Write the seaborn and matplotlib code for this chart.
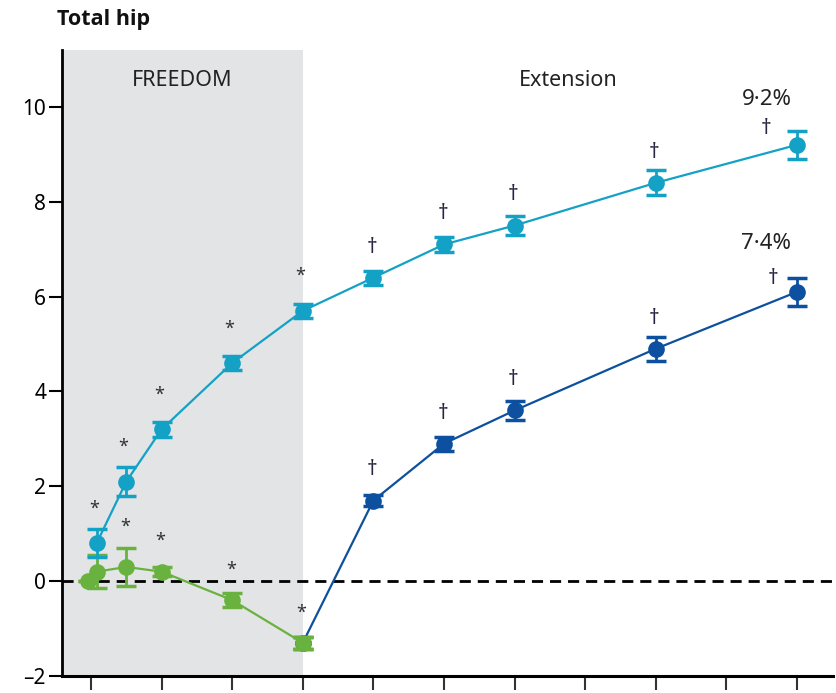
import matplotlib
matplotlib.use("Agg")
import matplotlib.pyplot as plt
import seaborn as sns
import pandas as pd

# Years since start of FREEDOM
cyan_time = [0.08, 0.5, 1, 2, 3, 4, 5, 6, 8, 10]
cyan_val = [0.8, 2.1, 3.2, 4.6, 5.7, 6.4, 7.1, 7.5, 8.4, 9.2]
cyan_err = [0.3, 0.3, 0.15, 0.15, 0.15, 0.15, 0.15, 0.2, 0.26, 0.3]

green_time = [-0.04, 0.08, 0.5, 1, 2, 3]
green_val = [0.0, 0.2, 0.3, 0.2, -0.4, -1.3]
green_err = [0.0, 0.35, 0.4, 0.1, 0.15, 0.12]

blue_time = [3, 4, 5, 6, 8, 10]
blue_val = [-1.3, 1.7, 2.9, 3.6, 4.9, 6.1]
blue_err = [0.12, 0.12, 0.15, 0.2, 0.25, 0.3]

y_ticks = [-2, 0, 2, 4, 6, 8, 10]
x_ticks = list(range(0, 11))

CYAN = "#14a1c6"
BLUE = "#0c509f"
GREEN = "#6ab23f"
SHADE = "#e3e4e6"

sns.set_theme(style="ticks")
plt.rcParams["font.family"] = ["Noto Sans", "DejaVu Sans"]

fig = plt.figure(figsize=(8.36, 6.93), dpi=100)
ax = fig.add_axes([0.0742, 0.0245, 0.9222, 0.9033])

xmin, xmax = -0.41, 10.51
ax.set_xlim(xmin, xmax)
ax.set_ylim(-2, 11.2)

ax.axvspan(xmin, 3, color=SHADE, lw=0, zorder=0)
ax.axhline(0, color="black", lw=2, ls=(0, (4, 2.5)), zorder=1)

# drawing order: blue underneath green, cyan on top
series = [
    ("blue", blue_time, blue_val, blue_err, BLUE),
    ("green", green_time, green_val, green_err, GREEN),
    ("cyan", cyan_time, cyan_val, cyan_err, CYAN),
]
frames = []
for name, t, v, e, c in series:
    frames.append(pd.DataFrame({"time": t, "value": v, "err": e, "group": name}))
df = pd.concat(frames, ignore_index=True)

for z, (name, t, v, e, c) in enumerate(series):
    sub = df[df["group"] == name]
    ax.errorbar(sub["time"], sub["value"], yerr=sub["err"], fmt="none",
                ecolor=c, elinewidth=2, capsize=7, capthick=2.5, zorder=2 + 2 * z)
    sns.lineplot(data=sub, x="time", y="value", color=c, lw=1.6,
                 marker="o", markersize=12, markeredgewidth=0,
                 ax=ax, zorder=3 + 2 * z, legend=False)

ax.set_xlabel("")
ax.set_ylabel("")
ax.set_xticks(x_ticks)
ax.set_xticklabels([])
ax.set_yticks(y_ticks)
ax.set_yticklabels([str(v).replace("-", "\u2013") for v in y_ticks])
ax.tick_params(axis="y", direction="out", length=9.5, width=1.5, labelsize=15,
               colors="black", pad=2)
ax.tick_params(axis="x", direction="out", length=10, width=1.5, colors="#333333")
for side in ["top", "right"]:
    ax.spines[side].set_visible(False)
ax.spines["left"].set_linewidth(2)
ax.spines["bottom"].set_linewidth(2.2)
ax.spines["left"].set_color("black")
ax.spines["bottom"].set_color("black")

# significance markers
star_cyan = [0, 1, 2, 3, 4]
star_green = [2, 3, 4, 5]
dag_cyan = [5, 6, 7, 8, 9]
dag_blue = [1, 2, 3, 4, 5]

def mark(t, v, sym, dx, dy, size, color):
    ax.annotate(sym, (t, v), xytext=(dx, dy), textcoords="offset points",
                ha="center", va="center", fontsize=size, color=color, zorder=10)

for i in star_cyan:
    mark(cyan_time[i], cyan_val[i], "*", -2, 25, 13, "#333333")
for i in star_green:
    dy = 29 if i == 2 else 22
    mark(green_time[i], green_val[i], "*", -1, dy, 13, "#333333")
for i in dag_cyan:
    dx = -22 if i == len(cyan_time) - 1 else -1
    dy = 12 if i == len(cyan_time) - 1 else 22
    mark(cyan_time[i], cyan_val[i], "\u2020", dx, dy, 15, "#2a2340")
for i in dag_blue:
    dx = -17 if i == len(blue_time) - 1 else -1
    dy = 10 if i == len(blue_time) - 1 else 22
    mark(blue_time[i], blue_val[i], "\u2020", dx, dy, 15, "#2a2340")

def pct(v):
    return f"{v:.1f}".replace(".", "\u00b7") + "%"

# overall gain: cyan from FREEDOM baseline, blue from start of extension
ax.annotate(pct(cyan_val[-1]), (cyan_time[-1], cyan_val[-1]), xytext=(-22, 33),
            textcoords="offset points", ha="center", va="center", fontsize=16,
            color="#222222")
ax.annotate(pct(blue_val[-1] - blue_val[0]), (blue_time[-1], blue_val[-1]),
            xytext=(-22, 35), textcoords="offset points", ha="center",
            va="center", fontsize=16, color="#222222")

ax.text((xmin + 3) / 2, 10.55, "FREEDOM", ha="center", va="center",
        fontsize=15.5, color="#222222")
ax.text((3 + xmax) / 2, 10.55, "Extension", ha="center", va="center",
        fontsize=15.5, color="#222222")

fig.text(57 / 836, 1 - 20 / 693, "Total hip", ha="left", va="center",
         fontsize=15.5, fontweight="bold", family=["Open Sans", "DejaVu Sans"],
         color="#111111")

fig.savefig("out.png", dpi=100)
